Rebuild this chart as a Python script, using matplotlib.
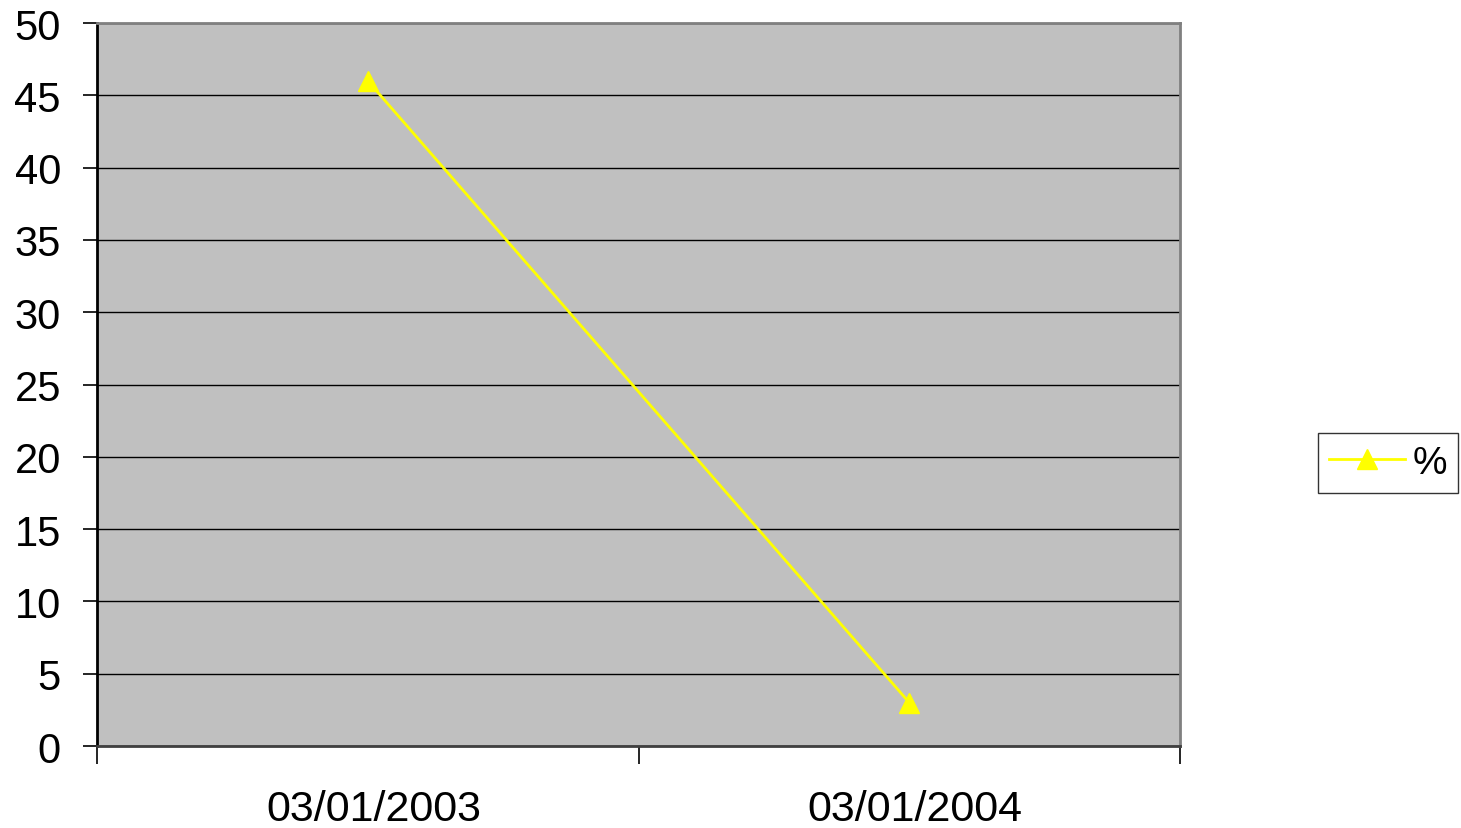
import numpy as np
import matplotlib.pyplot as plt
import matplotlib.transforms as mtransforms

plt.rcParams['font.family'] = ['Liberation Sans', 'DejaVu Sans']

dates = ["03/01/2003", "03/01/2004"]
pct = [46, 3]

fig = plt.figure(figsize=(14.61, 8.29), dpi=100)
ax = fig.add_axes([0.0664, 0.0989, 0.7413, 0.8721])
ax.set_facecolor('#c0c0c0')

x = np.arange(len(dates)) + 0.5
ax.plot(x, pct, color='#ffff00', lw=2, marker='^', ms=14,
        markeredgecolor='#ffff00', markerfacecolor='#ffff00', label='%',
        clip_on=False, zorder=3)

ax.set_xlim(0, len(dates))
ax.set_ylim(0, 50)
ax.set_yticks(np.arange(0, 51, 5))
ax.set_xticks(np.arange(len(dates) + 1))
ax.set_xticklabels([])
ax.set_xticks(x, minor=True)
ax.set_xticklabels(dates, minor=True)
ax.tick_params(axis='x', which='minor', length=0, pad=31, labelsize=31)
ax.tick_params(axis='x', which='major', length=13, width=1.2, color='black')
ax.tick_params(axis='y', length=10, width=1.2, pad=16, labelsize=30, color='black')

# date labels sit a little right of the category centre
shift = mtransforms.ScaledTranslation(6 / 100, 0, fig.dpi_scale_trans)
for lbl in ax.get_xticklabels(minor=True):
    lbl.set_transform(lbl.get_transform() + shift)

ax.grid(axis='y', color='black', lw=1)
ax.set_axisbelow(True)

for side in ['top', 'right']:
    ax.spines[side].set_color('#808080')
    ax.spines[side].set_linewidth(2)
ax.spines['left'].set_color('black')
ax.spines['left'].set_linewidth(2)
ax.spines['bottom'].set_color('#404040')
ax.spines['bottom'].set_linewidth(2)

leg = fig.legend(loc='center left', bbox_to_anchor=(0.902, 0.4403),
                 fontsize=28, frameon=True, fancybox=False, handlelength=1.93,
                 borderpad=0.3, handletextpad=0.2, borderaxespad=0)
leg.get_frame().set_edgecolor('black')
leg.get_frame().set_linewidth(1)

fig.savefig('out.png', dpi=100)
